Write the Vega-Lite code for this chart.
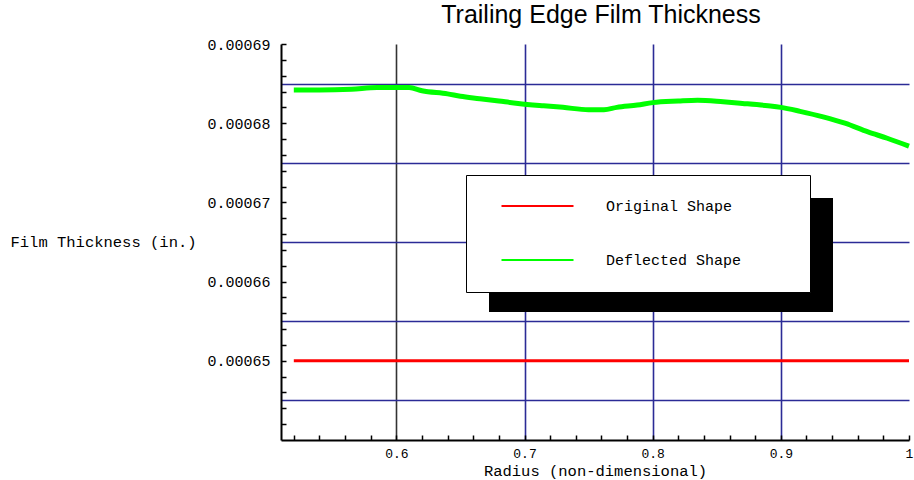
{
  "$schema": "https://vega.github.io/schema/vega-lite/v6.json",
  "width": 628,
  "height": 396,
  "autosize": "none",
  "padding": {"left": 281, "top": 44, "right": 5, "bottom": 40},
  "background": "white",
  "title": {"text": "Trailing Edge Film Thickness", "font": "Liberation Sans", "fontSize": 25, "fontWeight": "normal", "color": "black", "anchor": "middle", "baseline": "alphabetic", "offset": 16, "dx": 6, "dy": 27},
  "data": {
    "values": [
      {"series": "Original Shape", "r": 0.52, "t": 0.00065},
      {"series": "Original Shape", "r": 1.0, "t": 0.00065},
      {"series": "Deflected Shape", "r": 0.52, "t": 0.0006842},
      {"series": "Deflected Shape", "r": 0.54, "t": 0.0006842},
      {"series": "Deflected Shape", "r": 0.565, "t": 0.0006843},
      {"series": "Deflected Shape", "r": 0.585, "t": 0.0006845},
      {"series": "Deflected Shape", "r": 0.61, "t": 0.0006845},
      {"series": "Deflected Shape", "r": 0.62, "t": 0.0006841},
      {"series": "Deflected Shape", "r": 0.64, "t": 0.0006837},
      {"series": "Deflected Shape", "r": 0.65, "t": 0.0006834},
      {"series": "Deflected Shape", "r": 0.665, "t": 0.0006831},
      {"series": "Deflected Shape", "r": 0.68, "t": 0.0006828},
      {"series": "Deflected Shape", "r": 0.695, "t": 0.0006825},
      {"series": "Deflected Shape", "r": 0.715, "t": 0.0006822},
      {"series": "Deflected Shape", "r": 0.73, "t": 0.000682},
      {"series": "Deflected Shape", "r": 0.75, "t": 0.0006817},
      {"series": "Deflected Shape", "r": 0.762, "t": 0.0006817},
      {"series": "Deflected Shape", "r": 0.772, "t": 0.000682},
      {"series": "Deflected Shape", "r": 0.788, "t": 0.0006823},
      {"series": "Deflected Shape", "r": 0.8, "t": 0.0006826},
      {"series": "Deflected Shape", "r": 0.82, "t": 0.0006828},
      {"series": "Deflected Shape", "r": 0.835, "t": 0.0006829},
      {"series": "Deflected Shape", "r": 0.855, "t": 0.0006827},
      {"series": "Deflected Shape", "r": 0.87, "t": 0.0006825},
      {"series": "Deflected Shape", "r": 0.89, "t": 0.0006822},
      {"series": "Deflected Shape", "r": 0.9, "t": 0.000682},
      {"series": "Deflected Shape", "r": 0.915, "t": 0.0006815},
      {"series": "Deflected Shape", "r": 0.933, "t": 0.0006808},
      {"series": "Deflected Shape", "r": 0.95, "t": 0.00068},
      {"series": "Deflected Shape", "r": 0.968, "t": 0.0006789},
      {"series": "Deflected Shape", "r": 0.983, "t": 0.0006781},
      {"series": "Deflected Shape", "r": 1.0, "t": 0.0006771}
    ]
  },
  "encoding": {
    "x": {
      "field": "r", "type": "quantitative",
      "scale": {"domain": [0.51, 1.0], "nice": false, "zero": false},
      "axis": {
        "title": "Radius (non-dimensional)",
        "values": [0.52,0.54,0.56,0.58,0.6,0.62,0.64,0.66,0.68,0.7,0.72,0.74,0.76,0.78,0.8,0.82,0.84,0.86,0.88,0.9,0.92,0.94,0.96,0.98,1.0],
        "labelExpr": "round(datum.value*100) % 10 == 0 ? (round(datum.value*100) == 100 ? '1' : format(datum.value, '.1f')) : ''",
        "labelOverlap": false,
        "labelFlush": false,
        "labelFontSize": 13,
        "labelPadding": 12,
        "grid": true,
        "gridOpacity": {"condition": {"test": "round(datum.value*100) % 10 == 0 && datum.value < 0.95", "value": 1}, "value": 0},
        "gridColor": {"condition": {"test": "round(datum.value*100) == 60", "value": "#333333"}, "value": "#2b2b96"},
        "gridWidth": 1.6,
        "titleFontSize": 15.5,
        "titleBaseline": "middle",
        "titleY": 30
      }
    },
    "y": {
      "field": "t", "type": "quantitative",
      "scale": {"domain": [0.00064, 0.00069], "nice": false, "zero": false},
      "axis": {
        "title": "Film Thickness (in.)",
        "values": [0.00064,0.000642,0.000644,0.000645,0.000646,0.000648,0.00065,0.000652,0.000654,0.000655,0.000656,0.000658,0.00066,0.000662,0.000664,0.000665,0.000666,0.000668,0.00067,0.000672,0.000674,0.000675,0.000676,0.000678,0.00068,0.000682,0.000684,0.000685,0.000686,0.000688,0.00069],
        "labelExpr": "(round(datum.value*1e6) % 10 == 0 && round(datum.value*1e6) > 640) ? format(datum.value, '.5f') : ''",
        "labelOverlap": false,
        "labelPadding": 16,
        "grid": true,
        "gridOpacity": {"condition": {"test": "round(datum.value*1e6) % 10 == 5", "value": 1}, "value": 0},
        "gridColor": "#2b2b96",
        "gridWidth": 1.6,
        "tickOpacity": {"condition": {"test": "round(datum.value*1e6) % 2 == 1 || round(datum.value*1e6) == 640", "value": 0}, "value": 1},
        "titleFontSize": 15.5,
        "titleAngle": 0,
        "titleAlign": "left",
        "titleBaseline": "middle",
        "titleX": -271,
        "titleY": 197
      }
    }
  },
  "layer": [
    {
      "mark": {"type": "rect", "color": "black"},
      "encoding": {
        "x": {"datum": 0.6727},
        "x2": {"datum": 0.9407},
        "y": {"datum": 0.00067052},
        "y2": {"datum": 0.0006562}
      }
    },
    {
      "transform": [{"filter": "datum.series == 'Original Shape'"}],
      "mark": {"type": "line", "strokeWidth": 3},
      "encoding": {
        "color": {"field": "series", "type": "nominal", "scale": {"domain": ["Original Shape", "Deflected Shape"], "range": ["#ff0000", "#00ff00"]}, "legend": {"title": "\u00a0", "titleOrient": "right", "titlePadding": 45, "orient": "none", "legendX": 185, "legendY": 131}}
      }
    },
    {
      "transform": [{"filter": "datum.series == 'Deflected Shape'"}],
      "mark": {"type": "line", "strokeWidth": 5, "interpolate": "monotone"},
      "encoding": {
        "color": {"field": "series", "type": "nominal"}
      }
    }
  ],
  "config": {
    "view": {"stroke": null},
    "axis": {
      "domainColor": "black",
      "domainWidth": 2,
      "tickColor": "black",
      "tickWidth": 1.5,
      "tickSize": -5,
      "labelFont": "Liberation Mono",
      "labelFontSize": 15,
      "labelColor": "black",
      "titleFont": "Liberation Mono",
      "titleFontSize": 15,
      "titleFontWeight": "normal",
      "titleColor": "black"
    },
    "legend": {
      "symbolType": "M-6,0H6",
      "symbolSize": 144,
      "symbolStrokeWidth": 2,
      "symbolOffset": 40.5,
      "labelOffset": 61,
      "labelFont": "Liberation Mono",
      "labelFontSize": 15,
      "labelColor": "black",
      "titleFont": "Liberation Mono",
      "titleFontSize": 15,
      "padding": 23.5,
      "rowPadding": 38,
      "fillColor": "white",
      "strokeColor": "black",
      "strokeWidth": 1
    }
  }
}
